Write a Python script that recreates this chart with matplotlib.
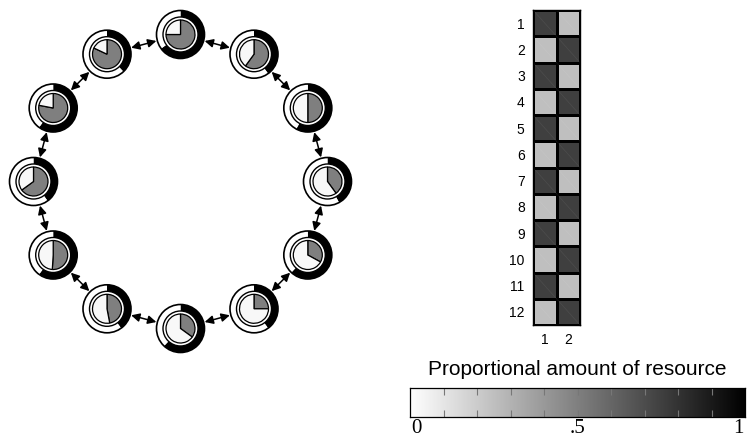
import numpy as np
import matplotlib
matplotlib.use('Agg')
import matplotlib.pyplot as plt
from matplotlib.patches import Wedge, Circle, FancyArrowPatch

# ===============================
# DATA
# ===============================
# fraction of outer resource (black ring) per node, clockwise from 12 o'clock
outer_share = [0.65, 0.40, 0.58, 0.42, 0.62, 0.40, 0.62, 0.40, 0.60, 0.40, 0.60, 0.38]
# fraction of inner resource (grey pie) per node
inner_share = [0.75, 0.60, 0.50, 0.40, 0.33, 0.25, 0.35, 0.47, 0.51, 0.65, 0.78, 0.82]

# 12 x 2 resource matrix
matrix_col1 = [0.75, 0.25, 0.75, 0.25, 0.75, 0.25, 0.75, 0.25, 0.75, 0.25, 0.75, 0.25]
matrix_col2 = [0.25, 0.75, 0.25, 0.75, 0.25, 0.75, 0.25, 0.75, 0.25, 0.75, 0.25, 0.75]
row_labels = [str(i) for i in range(1, 13)]
col_labels = ['1', '2']

cbar_labels = ['0', '.5', '1']

W, H = 747, 441
fig = plt.figure(figsize=(W / 100, H / 100), dpi=100)

# ===============================
# RING OF NODES
# ===============================
ax = fig.add_axes([0, 0, 1, 1])
ax.set_xlim(0, W)
ax.set_ylim(0, H)
ax.axis('off')

cx, cy, ring_r = 180.5, H - 181.5, 147
R_out, R_in, R_pie = 24, 17.5, 14.5
n = len(outer_share)
angles = np.deg2rad(90 - 30 * np.arange(n))
xs = cx + ring_r * np.cos(angles)
ys = cy + ring_r * np.sin(angles)

for i in range(n):
    c = (xs[i], ys[i])
    f = outer_share[i]
    g = inner_share[i]
    ax.add_patch(Wedge(c, R_out, 90 - 360 * f, 90, width=R_out - R_in,
                       facecolor='black', edgecolor='none'))
    ax.add_patch(Wedge(c, R_out, 90, 90 - 360 * f + 360, width=R_out - R_in,
                       facecolor='white', edgecolor='none'))
    ax.add_patch(Circle(c, R_out, fill=False, edgecolor='black', lw=1.2))
    ax.add_patch(Circle(c, R_in, fill=False, edgecolor='black', lw=1.0))
    ax.add_patch(Wedge(c, R_pie, 90 - 360 * g, 90, facecolor='#7f7f7f',
                       edgecolor='black', lw=0.9))
    ax.add_patch(Wedge(c, R_pie, 90, 90 - 360 * g + 360, facecolor='#f8f8f8',
                       edgecolor='black', lw=0.9))

for i in range(n):
    j = (i + 1) % n
    d = np.array([xs[j] - xs[i], ys[j] - ys[i]])
    u = d / np.hypot(*d)
    a = np.array([xs[i], ys[i]]) + u * (R_out + 1)
    b = np.array([xs[j], ys[j]]) - u * (R_out + 1)
    ax.add_patch(FancyArrowPatch(a, b, arrowstyle='<|-|>,head_length=0.5,head_width=0.25',
                                 mutation_scale=10, color='black', lw=1.1,
                                 shrinkA=0, shrinkB=0))

# ===============================
# MATRIX
# ===============================
mat = np.column_stack([matrix_col1, matrix_col2])
hx = fig.add_axes([533 / W, 1 - 325 / H, 47 / W, 315 / H])
hx.pcolormesh(np.arange(3), np.arange(13), mat, cmap='gray_r', vmin=0, vmax=1,
              edgecolors='black', linewidth=0.9)
for r in range(12):
    for k in range(2):
        hx.plot([k, k + 1], [r, r + 1], color='white', lw=0.5, alpha=0.07)
hx.set_xlim(0, 2)
hx.set_ylim(12, 0)
hx.set_xticks([0.5, 1.5])
hx.set_xticklabels(col_labels)
hx.set_yticks(np.arange(12) + 0.5)
hx.set_yticklabels(row_labels)
hx.tick_params(length=0, labelsize=10, pad=6)
for lab in hx.get_xticklabels() + hx.get_yticklabels():
    lab.set_fontfamily('Liberation Sans')
for s in hx.spines.values():
    s.set_linewidth(1.0)

# ===============================
# COLOUR BAR
# ===============================
bx = fig.add_axes([410 / W, 1 - 417 / H, 335 / W, 29 / H])
grad = np.linspace(0, 1, 256).reshape(1, -1)
bx.imshow(grad, cmap='gray_r', aspect='auto', extent=[0, 1, 0, 1], vmin=0, vmax=1)
bx.set_xlim(0, 1)
bx.set_ylim(0, 1)
bx.set_xticks(np.arange(1, 10) / 10)
bx.set_xticklabels([])
bx.set_yticks([])
bx.tick_params(axis='x', direction='in', length=5, color='#777777',
               top=True, bottom=True, width=0.8)
for s in bx.spines.values():
    s.set_linewidth(0.9)
bx.text(0.005, -0.08, cbar_labels[0], ha='left', va='top', fontsize=15,
        family='Liberation Serif', transform=bx.transAxes)
bx.text(0.5, -0.08, cbar_labels[1], ha='center', va='top', fontsize=15,
        family='Liberation Serif', transform=bx.transAxes)
bx.text(0.995, -0.08, cbar_labels[2], ha='right', va='top', fontsize=15,
        family='Liberation Serif', transform=bx.transAxes)
bx.text(0.5, 1.3, 'Proportional amount of resource', ha='center', va='bottom',
        fontsize=15, family='Liberation Sans', transform=bx.transAxes)

fig.savefig('out.png', dpi=100)
